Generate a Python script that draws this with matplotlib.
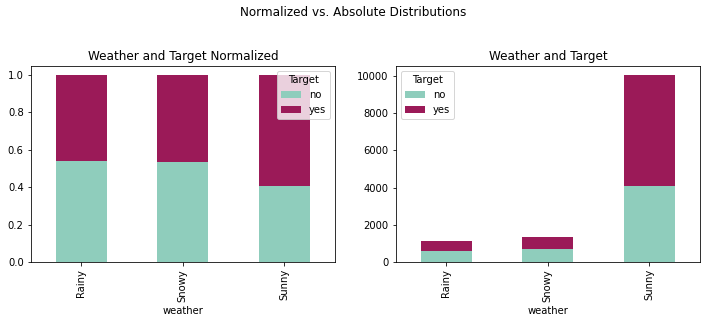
import matplotlib
matplotlib.use("Agg")
import matplotlib.pyplot as plt
import numpy as np

categories = ["Rainy", "Snowy", "Sunny"]
no_counts = [600, 708, 4060]
yes_counts = [512, 621, 5990]
series_names = ["no", "yes"]
colors = ["#8fcdbc", "#9b1a58"]

no_arr = np.array(no_counts, dtype=float)
yes_arr = np.array(yes_counts, dtype=float)
tot = no_arr + yes_arr
no_norm = no_arr / tot
yes_norm = yes_arr / tot

W, H = 706, 323
fig = plt.figure(figsize=(W / 72, H / 72), dpi=72)
ax1 = fig.add_axes([30.7 / W, 1 - 262 / H, (335 - 30.7) / W, (262 - 65.7) / H])
ax2 = fig.add_axes([395.7 / W, 1 - 262 / H, (700 - 395.7) / W, (262 - 65.7) / H])

x = np.arange(len(categories))
w = 0.5
for ax, a, b in [(ax1, no_norm, yes_norm), (ax2, no_arr, yes_arr)]:
    ax.bar(x, a, w, color=colors[0], label=series_names[0])
    ax.bar(x, b, w, bottom=a, color=colors[1], label=series_names[1])
    ax.set_xticks(x)
    ax.set_xticklabels(categories, rotation=90)
    ax.set_xlim(-0.5, len(categories) - 0.5)
    ax.set_xlabel("weather")

ax1.set_title("Weather and Target Normalized")
ax2.set_title("Weather and Target")
ax1.legend(title="Target", loc="upper right")
ax2.legend(title="Target", loc="upper left")
fig.suptitle("Normalized vs. Absolute Distributions", y=1 - 13 / H, va="center")

fig.savefig("out.png", dpi=72)
